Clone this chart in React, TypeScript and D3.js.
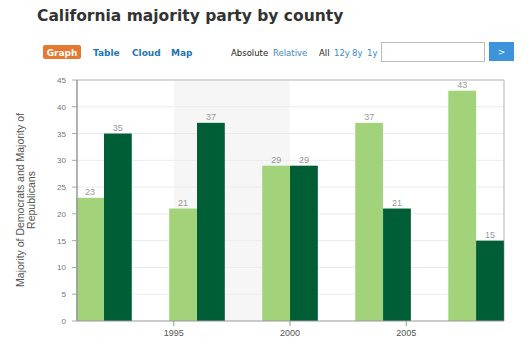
import React from "react";
import * as d3 from "d3";

const years = [1992, 1996, 2000, 2004, 2008];
const democrats = [23, 21, 29, 37, 43];
const republicans = [35, 37, 29, 21, 15];
const yTicks = [0, 5, 10, 15, 20, 25, 30, 35, 40, 45];
const xTicks = [1995, 2000, 2005];
const shadeRange = [1995, 2000];
const title = "California majority party by county";
const yLabel = ["Majority of Democrats and Majority of", "Republicans"];

const W = 530, H = 346;
const left = 77, right = 504, top = 80, bottom = 321;
const LIGHT = "#a2d279";
const DARK = "#005e36";

export default function App() {
  const x = d3.scaleLinear().domain([1990.84, 2009.2]).range([left, right]);
  const y = d3.scaleLinear().domain([0, 45]).range([bottom, top]);
  const bw = 27.8;
  const font = "'Liberation Sans', Arial, sans-serif";
  const vfont = "'DejaVu Sans', Verdana, sans-serif";
  return (
    <svg width={W} height={H} style={{ position: "absolute", left: 0, top: 0, background: "#fff" }}>
      <text x={37} y={21} fontFamily={vfont} fontWeight="bold" fontSize={15.5} fill="#333">{title}</text>
      {/* toolbar */}
      <rect x={43} y={45} width={38} height={14} rx={2} fill="#e8782f" />
      <text x={62} y={56} textAnchor="middle" fontFamily={vfont} fontWeight="bold" fontSize={9} fill="#fff">Graph</text>
      <text x={93} y={56} fontFamily={vfont} fontWeight="bold" fontSize={9} fill="#2275b5">Table</text>
      <text x={132} y={56} fontFamily={vfont} fontWeight="bold" fontSize={9} fill="#2275b5">Cloud</text>
      <text x={171} y={56} fontFamily={vfont} fontWeight="bold" fontSize={9} fill="#2275b5">Map</text>
      <text x={231} y={56} fontFamily={vfont} fontSize={8.5} fill="#222">Absolute</text>
      <text x={273} y={56} fontFamily={vfont} fontSize={8.5} fill="#3b88c4">Relative</text>
      <text x={319} y={56} fontFamily={vfont} fontSize={8.5} fill="#222">All</text>
      <text x={334} y={56} fontFamily={vfont} fontSize={8.5} fill="#3b88c4">12y</text>
      <text x={352} y={56} fontFamily={vfont} fontSize={8.5} fill="#3b88c4">8y</text>
      <text x={367} y={56} fontFamily={vfont} fontSize={8.5} fill="#3b88c4">1y</text>
      <rect x={381.5} y={42.5} width={103} height={19} fill="#fff" stroke="#bbb" />
      <rect x={489} y={42} width={25} height={19} fill="#3d94dc" />
      <text x={501.5} y={55} textAnchor="middle" fontFamily={vfont} fontSize={9} fill="#fff">&gt;</text>

      {/* shade */}
      <rect x={x(shadeRange[0])} y={top} width={x(shadeRange[1]) - x(shadeRange[0])} height={bottom - top} fill="#f6f6f6" />
      {/* grid */}
      {yTicks.map((t) => (
        <g key={t}>
          {t > 0 && <line x1={left} x2={right} y1={y(t)} y2={y(t)} stroke="#ebebeb" />}
          <line x1={72} x2={left} y1={y(t)} y2={y(t)} stroke="#aaa" />
          <text x={66} y={y(t) + 3} textAnchor="end" fontFamily={font} fontSize={8} fill="#777">{t}</text>
        </g>
      ))}
      {/* frame */}
      <line x1={left} x2={right} y1={top} y2={top} stroke="#ccc" strokeWidth={1.5} />
      <line x1={right} x2={right} y1={top} y2={bottom} stroke="#ccc" strokeWidth={1.5} />
      {/* bars */}
      {years.map((yr, i) => (
        <g key={yr}>
          <rect x={x(yr) - bw} y={y(democrats[i])} width={bw} height={y(0) - y(democrats[i])} fill={LIGHT} />
          <rect x={x(yr)} y={y(republicans[i])} width={bw} height={y(0) - y(republicans[i])} fill={DARK} />
          <text x={x(yr) - bw / 2} y={y(democrats[i]) - 3} textAnchor="middle" fontFamily={font} fontSize={9} fill="#999">{democrats[i]}</text>
          <text x={x(yr) + bw / 2} y={y(republicans[i]) - 3} textAnchor="middle" fontFamily={font} fontSize={9} fill="#999">{republicans[i]}</text>
        </g>
      ))}
      {/* axes */}
      <line x1={left} x2={left} y1={top} y2={bottom} stroke="#999" strokeWidth={1.5} />
      <line x1={left} x2={right} y1={bottom} y2={bottom} stroke="#999" />
      {xTicks.map((t) => (
        <g key={t}>
          <line x1={x(t)} x2={x(t)} y1={bottom} y2={bottom + 5} stroke="#999" />
          <text x={x(t)} y={336} textAnchor="middle" fontFamily={font} fontSize={9} fill="#555">{t}</text>
        </g>
      ))}
      <g transform={`translate(24,200) rotate(-90)`}>
        <text x={0} y={0} textAnchor="middle" fontFamily={font} fontSize={10.5} fill="#555">{yLabel[0]}</text>
        <text x={0} y={11} textAnchor="middle" fontFamily={font} fontSize={10.5} fill="#555">{yLabel[1]}</text>
      </g>
    </svg>
  );
}
